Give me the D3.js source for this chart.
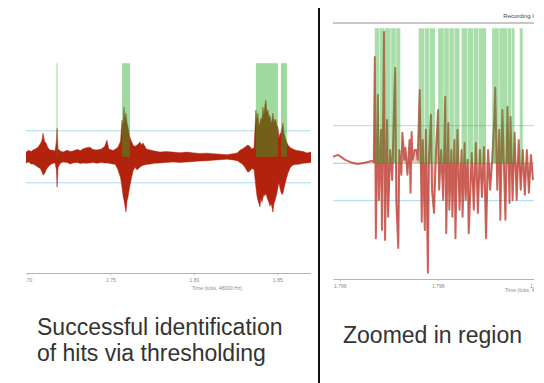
<!DOCTYPE html>
<html>
<head>
<meta charset="utf-8">
<script src="https://cdn.jsdelivr.net/npm/d3@7"></script>
<style>
  body { margin: 0; background: #fff; }
  text { font-family: 'Liberation Sans', Arial, sans-serif; }
</style>
</head>
<body>
<div id="chart"></div>
<script>
// ---- data ----
// left panel: envelope of the recording (time in s, amplitude in threshold units)
const envTime = [1.6994, 1.7010, 1.7025, 1.7036, 1.7050, 1.7066, 1.7080, 1.7090, 1.7096, 1.7105, 1.7114, 1.7125, 1.7138, 1.7155, 1.7168, 1.7176, 1.7180, 1.7186, 1.7200, 1.7216, 1.7240, 1.7260, 1.7275, 1.7300, 1.7320, 1.7335, 1.7355, 1.7377, 1.7395, 1.7419, 1.7445, 1.7465, 1.7479, 1.7490, 1.7515, 1.7530, 1.7545, 1.7560, 1.7569, 1.7575, 1.7581, 1.7587, 1.7593, 1.7599, 1.7605, 1.7614, 1.7623, 1.7635, 1.7647, 1.7659, 1.7668, 1.7677, 1.7686, 1.7695, 1.7715, 1.7737, 1.7765, 1.7796, 1.7830, 1.7874, 1.7915, 1.7958, 1.8000, 1.8036, 1.8080, 1.8114, 1.8160, 1.8198, 1.8234, 1.8260, 1.8275, 1.8290, 1.8305, 1.8323, 1.8335, 1.8347, 1.8360, 1.8371, 1.8377, 1.8383, 1.8389, 1.8395, 1.8401, 1.8407, 1.8413, 1.8419, 1.8425, 1.8431, 1.8437, 1.8443, 1.8449, 1.8455, 1.8461, 1.8467, 1.8473, 1.8479, 1.8485, 1.8491, 1.8497, 1.8503, 1.8509, 1.8515, 1.8521, 1.8527, 1.8533, 1.8540, 1.8551, 1.8563, 1.8578, 1.8593, 1.8610, 1.8635, 1.8655, 1.8677, 1.8701];
const envHigh = [0.18, 0.25, 0.20, 0.26, 0.30, 0.37, 0.50, 0.64, 0.91, 0.60, 0.53, 0.35, 0.26, 0.25, 0.22, 0.60, 1.10, 0.30, 0.22, 0.18, 0.25, 0.20, 0.22, 0.28, 0.24, 0.30, 0.35, 0.37, 0.28, 0.26, 0.30, 0.40, 0.64, 0.30, 0.24, 0.30, 0.37, 0.60, 1.41, 1.20, 1.91, 1.40, 1.68, 1.30, 1.14, 0.80, 0.64, 0.45, 0.40, 0.45, 0.50, 0.57, 0.45, 0.53, 0.30, 0.26, 0.22, 0.18, 0.20, 0.18, 0.16, 0.18, 0.15, 0.13, 0.14, 0.12, 0.10, 0.08, 0.12, 0.15, 0.25, 0.30, 0.37, 0.45, 0.40, 0.30, 0.35, 1.80, 1.40, 1.68, 1.20, 1.30, 1.50, 1.40, 1.91, 1.60, 2.00, 2.18, 1.70, 1.80, 1.50, 1.60, 1.30, 1.41, 1.68, 1.30, 1.45, 1.41, 1.20, 1.14, 0.70, 0.90, 0.91, 1.10, 1.30, 0.90, 0.64, 0.45, 0.35, 0.30, 0.25, 0.22, 0.20, 0.15, 0.18];
const envLow = [-0.24, -0.20, -0.28, -0.28, -0.33, -0.40, -0.45, -0.59, -0.70, -0.65, -0.51, -0.40, -0.32, -0.25, -0.24, -0.50, -1.17, -0.40, -0.25, -0.20, -0.22, -0.28, -0.24, -0.22, -0.26, -0.24, -0.25, -0.24, -0.22, -0.25, -0.22, -0.24, -0.24, -0.25, -0.28, -0.30, -0.51, -0.80, -1.17, -1.50, -1.67, -1.90, -2.13, -1.70, -1.55, -1.20, -0.90, -0.55, -0.40, -0.51, -0.45, -0.40, -0.35, -0.33, -0.30, -0.28, -0.25, -0.24, -0.22, -0.20, -0.22, -0.20, -0.18, -0.16, -0.15, -0.13, -0.11, -0.09, -0.12, -0.15, -0.22, -0.28, -0.40, -0.59, -0.55, -0.45, -0.50, -1.17, -1.50, -1.67, -1.80, -1.93, -1.60, -1.75, -1.59, -1.45, -1.50, -1.40, -1.55, -1.67, -1.75, -1.90, -1.80, -1.93, -2.13, -1.80, -1.70, -1.55, -1.40, -1.17, -1.00, -1.20, -1.36, -1.45, -1.40, -1.20, -0.90, -0.63, -0.40, -0.32, -0.30, -0.28, -0.25, -0.24, -0.22];
// left panel: detected hits [start, end] in s
const leftHits = [[1.7174, 1.7186], [1.7569, 1.7617], [1.8371, 1.8503], [1.8521, 1.8557]];
const leftTicks = [1.70, 1.75, 1.80, 1.85];

// right panel: zoomed samples (index at 48000 Hz from zoomStart, amplitude)
const zoomStart = 1.79586;
const zoomIdx = [0, 5, 12, 19, 24, 31, 38, 40, 41, 42, 44, 45, 47, 48, 50, 51, 53, 54, 56, 58, 60, 61, 62, 64, 65, 67, 68, 70, 71, 73, 75, 76, 77, 78, 80, 82, 83, 85, 87, 88, 90, 91, 93, 94, 96, 97, 99, 101, 103, 104, 106, 108, 110, 111, 113, 114, 116, 117, 119, 120, 122, 124, 126, 127, 129, 130, 132, 133, 136, 138, 140, 142, 144, 146, 148, 150, 152, 154, 156, 158, 159, 161, 163, 164, 166, 169, 171, 173, 174, 176, 178, 180, 182, 184, 186, 188, 190, 192, 194, 196];
const zoomVal = [0.17, 0.22, 0.09, 0.01, -0.02, 0.01, 0.06, 0.03, 2.83, -2.00, 1.82, -0.98, 0.89, -1.78, 3.50, -2.05, 1.15, -1.43, 0.35, -0.45, 1.69, 2.54, -0.98, -2.26, 0.35, -0.31, 0.81, 0.09, 0.41, -0.31, 0.62, -0.79, 0.83, 0.09, 0.35, 0.35, 0.09, 1.95, -1.56, 0.62, -1.78, 0.89, -2.92, 0.09, 1.29, -0.71, -1.33, 0.35, 1.42, -0.71, 0.35, -0.98, 1.77, -1.87, 1.07, -1.24, 0.35, -1.43, 0.62, -2.00, 0.89, -1.24, 0.35, -1.43, 0.54, -0.98, 0.09, -1.87, 0.27, -1.24, 0.54, -1.33, 0.35, -0.90, 0.43, -2.00, 0.35, -0.71, 0.09, 1.15, 2.01, -0.71, 0.89, -1.51, 1.42, -1.51, 1.50, -1.06, 1.23, -0.98, 0.81, -0.98, 0.62, -0.71, 0.35, -0.84, 0.35, -0.79, 0.22, -0.45];
// right panel: detected hits as sample index ranges
const zoomHits = [[41, 45.5], [46, 50.5], [51, 56.5], [57, 61.5], [62, 66], [84, 89.5], [90, 94.5], [95, 100], [103, 108.5], [109, 113.5], [114, 118.5], [119, 124], [126, 131.5], [132, 137.5], [138, 142.5], [143, 150], [156, 162.5], [163, 170.5], [171, 174.5], [175, 178], [183, 186]];
const zoomTicks = [1.796, 1.798, 1.800];

const thresholds = [-1, 1];
const hitTop = 3.6;
const sampleRate = 48000;
const axisTitle = 'Time (ticks, 48000 Hz)';
const recordingLabel = 'Recording I';
const leftCaption = ['Successful identification', 'of hits via thresholding'];
const rightCaption = 'Zoomed in region';

// ---- drawing ----
const W = 544, H = 383;
const red = '#b3210f';
const green = 'rgb(40,170,40)';
const blue = '#a9dcec';

const svg = d3.select('#chart').append('svg').attr('width', W).attr('height', H);
svg.append('rect').attr('width', W).attr('height', H).attr('fill', '#fff');

const defs = svg.append('defs');
const addClip = (id, x0, x1) => defs.append('clipPath').attr('id', id)
  .append('rect').attr('x', x0).attr('y', 0).attr('width', x1 - x0).attr('height', 300);
// the source picture is a soft screenshot, blur the signal a little
defs.append('filter').attr('id', 'soft').attr('x', '-5%').attr('y', '-5%').attr('width', '110%').attr('height', '110%')
  .append('feGaussianBlur').attr('stdDeviation', 0.6);

const drawAxis = (g, x, yPos, ticks, fmt, titleX, titleY) => {
  const ax = g.append('g').attr('transform', `translate(0,${yPos})`)
    .call(d3.axisBottom(x).tickValues(ticks).tickFormat(d3.format(fmt)).tickSize(2).tickSizeOuter(0));
  ax.select('.domain').attr('stroke', '#b4b4b4').attr('stroke-width', 1.2);
  ax.selectAll('.tick line').attr('stroke', '#b4b4b4');
  ax.selectAll('.tick text').attr('fill', '#8a8a8a').style('font-size', '5px');
  g.append('text').attr('x', titleX).attr('y', titleY).attr('fill', '#8a8a8a')
    .style('font-size', '5px').text(axisTitle);
};

// left panel
addClip('clipL', 26, 311);
const xL = d3.scaleLinear().domain([1.6994, 1.8701]).range([26, 311]);
const yL = d3.scaleLinear().domain([-4.47, 4.5]).range([273, 39.8]);
const gL = svg.append('g').attr('clip-path', 'url(#clipL)');

thresholds.forEach(t => {
  gL.append('line').attr('x1', 26).attr('x2', 311).attr('y1', yL(t)).attr('y2', yL(t))
    .attr('stroke', blue).attr('stroke-width', 1);
});

const env = envTime.map((t, i) => ({ t, hi: envHigh[i], lo: envLow[i] }));
const area = d3.area().x(d => xL(d.t)).y0(d => yL(d.lo)).y1(d => yL(d.hi));
gL.append('path').attr('d', area(env)).attr('fill', red).attr('filter', 'url(#soft)')
  .attr('stroke', red).attr('stroke-width', 0.8).attr('stroke-opacity', 0.6);

gL.selectAll('.hitL').data(leftHits).enter().append('rect')
  .attr('x', d => xL(d[0])).attr('width', d => xL(d[1]) - xL(d[0]))
  .attr('y', yL(hitTop)).attr('height', yL(0) - yL(hitTop))
  .attr('fill', green).attr('fill-opacity', d => (xL(d[1]) - xL(d[0]) < 3 ? 0.22 : 0.45));

drawAxis(gL, xL, 273, leftTicks, '.2f', 192, 290);

// right panel
addClip('clipR', 333, 534);
const xR = d3.scaleLinear().domain([zoomStart, zoomStart + 197 / sampleRate]).range([333, 534]);
const yR = d3.scaleLinear().domain([-3.09, 3.74]).range([279, 23]);
const gR = svg.append('g').attr('clip-path', 'url(#clipR)');
const tOf = n => zoomStart + n / sampleRate;

thresholds.forEach(t => {
  gR.append('line').attr('x1', 333).attr('x2', 534).attr('y1', yR(t)).attr('y2', yR(t))
    .attr('stroke', blue).attr('stroke-width', 1);
});
gR.append('line').attr('x1', 333).attr('x2', 534).attr('y1', yR(0)).attr('y2', yR(0))
  .attr('stroke', '#9fd89f').attr('stroke-width', 1);

const zoomData = zoomIdx.map((n, i) => ({ t: tOf(n), v: zoomVal[i] }));
// shade only the busy part, the quiet lead-in is a bare line
const zArea = d3.area().x(d => xR(d.t)).y0(yR(0)).y1(d => yR(d.v));
gR.append('path').attr('d', zArea(zoomData.slice(7))).attr('fill', '#c0392b').attr('fill-opacity', 0.28)
  .attr('filter', 'url(#soft)');
const line = d3.line().x(d => xR(d.t)).y(d => yR(d.v));
gR.append('path').attr('d', line(zoomData)).attr('fill', 'none').attr('filter', 'url(#soft)')
  .attr('stroke', '#bb3326').attr('stroke-opacity', 0.75).attr('stroke-width', 2)
  .attr('stroke-linejoin', 'round');

gR.selectAll('.hitR').data(zoomHits).enter().append('rect')
  .attr('x', d => xR(tOf(d[0]))).attr('width', d => xR(tOf(d[1])) - xR(tOf(d[0])))
  .attr('y', yR(hitTop)).attr('height', yR(0) - yR(hitTop))
  .attr('fill', green).attr('fill-opacity', 0.4);

drawAxis(gR, xR, 279, zoomTicks, '.3f', 505, 292);

svg.append('line').attr('x1', 333).attr('x2', 534).attr('y1', 23).attr('y2', 23)
  .attr('stroke', '#b4b4b4').attr('stroke-width', 1.5);
svg.append('text').attr('x', 534).attr('y', 18).attr('text-anchor', 'end')
  .attr('fill', '#444').style('font-size', '6px').text(recordingLabel);

// separator
svg.append('line').attr('x1', 319).attr('x2', 319).attr('y1', 8).attr('y2', H)
  .attr('stroke', '#111').attr('stroke-width', 2);

// captions
svg.selectAll('.capL').data(leftCaption).enter().append('text')
  .attr('x', 37).attr('y', (d, i) => 335 + i * 26)
  .attr('fill', '#333').style('font-size', '23px').text(d => d);
svg.append('text').attr('x', 343).attr('y', 343)
  .attr('fill', '#333').style('font-size', '23px').text(rightCaption);
</script>
</body>
</html>
